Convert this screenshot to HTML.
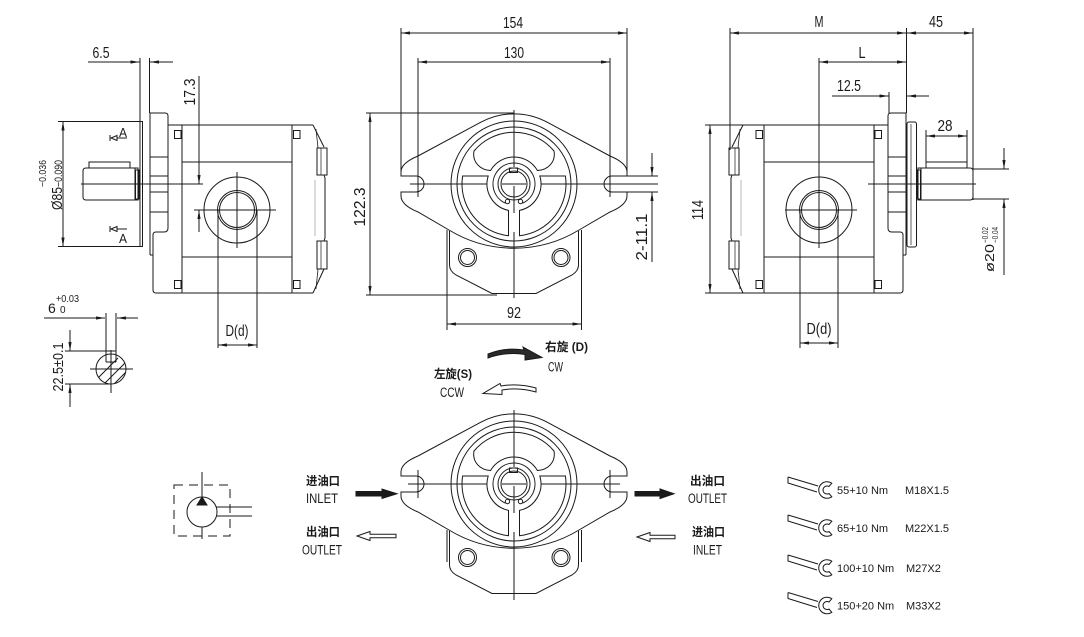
<!DOCTYPE html>
<html><head><meta charset="utf-8">
<style>
html,body{margin:0;padding:0;background:#fff;}
svg{display:block}
text{font-family:"Liberation Sans","Noto Sans CJK SC",sans-serif;fill:#1a1a1a;stroke:none}
.d{font-size:16px}
.cj{font-size:12px;font-weight:bold}
.en{font-size:13.5px}
.w{font-size:11px}
</style></head><body>
<svg width="1084" height="637" viewBox="0 0 1084 637" xmlns="http://www.w3.org/2000/svg">
<defs>
<marker id="ar" viewBox="0 0 9 3.2" refX="9" refY="1.6" markerWidth="9" markerHeight="3.2" markerUnits="userSpaceOnUse" orient="auto-start-reverse"><path d="M0,0L9,1.6L0,3.2z" fill="#1a1a1a"/></marker>
<clipPath id="cc"><circle cx="111" cy="369" r="15"/></clipPath>
</defs>
<rect width="1084" height="637" fill="#fff"/>
<g fill="none" stroke="#1a1a1a" stroke-width="1">

<!-- ===== SIDE BODY (left view), reused mirrored for right view ===== -->
<g id="side">
 <path d="M150,255 L150,113 L165,113 Q168,113 168,116 L168,228 Q168,232 164,232 L156,232 Q153,232 153,235 L153,290 Q153,293 156,293 L313,293"/>
 <path d="M150,255 L153,255"/>
 <path d="M168,125 L313,125"/>
 <path d="M313,125 L324,147 M324,175 L325,178 L325,238 L324,241 M324,269 L313,293"/>
 <path d="M316,129 L318,148 M316,289 L318,269" stroke-width="0.8"/>
 <rect x="317" y="148" width="10" height="27"/>
 <rect x="317" y="241" width="10" height="28"/>
 <path d="M321,148 V175 M321,241 V269" stroke-width="0.7"/>
 <path d="M315,180 V236" stroke="#999" stroke-width="0.7"/>
 <path d="M182,125 V293 M292,125 V293"/>
 <path d="M182,162 H292 M182,257 H292"/>
 <path d="M150,157 H168 M150,176 H168 M150,192 H168 M150,212 H168"/>
 <rect x="174.5" y="130.5" width="6.5" height="8"/>
 <rect x="293.5" y="130.5" width="6.5" height="8"/>
 <rect x="174.5" y="280.5" width="6.5" height="8"/>
 <rect x="293.5" y="280.5" width="6.5" height="8"/>
 <circle cx="237" cy="210" r="33"/>
 <circle cx="237" cy="210" r="19.5"/>
 <circle cx="237" cy="210" r="17.5"/>
 <path d="M138,168 H86 Q83,168 83,171 V197 Q83,200 86,200 H138 Z"/>
 <path d="M135,168 V200"/>
 <rect x="89" y="162" width="41" height="6"/>
 <rect x="135.5" y="170" width="3.5" height="29"/>
</g>
<use href="#side" transform="translate(1056,0) scale(-1,1)"/>

<!-- left view plate & dims -->
<rect x="140" y="121.5" width="2.5" height="125"/>
<path d="M58,121.5 H140 M58,246.5 H140"/>
<path d="M63,121.5 V246.5" marker-start="url(#ar)" marker-end="url(#ar)"/>
<path d="M140,58 V121 M149.5,58 V113"/>
<path d="M88,62 H139.5" marker-end="url(#ar)"/>
<path d="M173,62 H150" marker-end="url(#ar)"/>
<path d="M199,76 V184" marker-end="url(#ar)"/>
<path d="M199,232 V210" marker-end="url(#ar)"/>
<path d="M81,184 H203"/>
<path d="M194,210 H276 M237,172 V248"/>
<path d="M218,210 V348 M257,210 V348"/>
<path d="M218,345 H257" marker-start="url(#ar)" marker-end="url(#ar)"/>
<!-- A markers -->
<path d="M110,135 V141 M111,138 L117,135.5 L117,140.5 Z M117,138 H127"/>
<path d="M110,226 V232 M111,229 L117,226.5 L117,231.5 Z M117,229 H127"/>

<!-- key section detail -->
<path d="M44,318 H105" marker-end="url(#ar)"/>
<path d="M138,318 H117" marker-end="url(#ar)"/>
<path d="M106,313 V362 M116,313 V362 M106,362 H116"/>
<circle cx="111" cy="369" r="15"/>
<path d="M90,369 H133 M111,350 V393"/>
<g clip-path="url(#cc)">
 <path d="M92,384 L118,358 M98,390 L126,362 M104,394 L132,366"/>
</g>
<path d="M65,351 H116 M65,384 H111"/>
<path d="M70,330 V351" marker-end="url(#ar)"/>
<path d="M70,407 V384" marker-end="url(#ar)"/>

<!-- ===== FRONT VIEW group ===== -->
<g id="front">
 <path d="M480.6,122.3 L418,156 Q401,163 401,172 L401,176 L416,176 A8,8 0 0 1 416,192 L401,192 L401,196 Q401,205 418,212 L449,230 A125,125 0 0 0 579,230 L610,212 Q627,205 627,196 L627,192 L612,192 A8,8 0 0 1 612,176 L627,176 L627,172 Q627,163 610,156 L547.4,122.3 A70,70 0 0 0 480.6,122.3 Z"/>
 <circle cx="514" cy="184" r="63"/>
 <circle cx="514" cy="184" r="57"/>
 <path d="M474,151 A52,52 0 0 1 554,151 C556,162 548,170 537.4,170.5 A27,27 0 0 0 490.6,170.5 C480,170 472,162 474,151 Z"/>
 <path d="M462.6,176 L488.2,176 A27,27 0 0 0 508.5,210.4 L508.5,235.7 A52,52 0 0 1 462.6,176 Z"/>
 <path d="M565.4,176 L539.8,176 A27,27 0 0 1 519.5,210.4 L519.5,235.7 A52,52 0 0 0 565.4,176 Z"/>
 <path d="M505.5,203.2 A21,21 0 1 1 522.5,203.2"/>
 <circle cx="507.5" cy="201.5" r="2.2"/>
 <circle cx="520.5" cy="201.5" r="2.2"/>
 <circle cx="514" cy="184" r="16"/>
 <circle cx="514" cy="184" r="13"/>
 <rect x="509.5" y="168" width="8" height="4.5"/>
 <path d="M449.5,231 V265 Q449.5,271 456,275 L492,293.5 L536,293.5 L572,275 Q578.5,271 578.5,265 V231"/>
 <path d="M447,230 V262 M581.5,230 V262"/>
 <circle cx="467.5" cy="257.5" r="9"/>
 <circle cx="467.5" cy="257.5" r="7"/>
 <circle cx="561" cy="257.5" r="9"/>
 <circle cx="561" cy="257.5" r="7"/>
</g>
<use href="#front" transform="translate(0,300)"/>

<!-- front view centerlines & dims -->
<path d="M410,184 H487 M502,184 H526 M541,184 H658"/>
<path d="M514,110 V167 M514,186 V213 M514,232 V298"/>
<path d="M401,28 V172 M627,28 V172"/>
<path d="M401,33 H627" marker-start="url(#ar)" marker-end="url(#ar)"/>
<path d="M418,58 V197 M610,58 V197"/>
<path d="M418,62 H610" marker-start="url(#ar)" marker-end="url(#ar)"/>
<path d="M366,113 H514 M366,295 H497"/>
<path d="M370,113 V295" marker-start="url(#ar)" marker-end="url(#ar)"/>
<path d="M447,262 V330 M581.5,262 V330"/>
<path d="M447,324 H581.5" marker-start="url(#ar)" marker-end="url(#ar)"/>
<path d="M610,176 H658 M610,192 H658"/>
<path d="M652,153 V176" marker-end="url(#ar)"/>
<path d="M652,262 V192" marker-end="url(#ar)"/>

<!-- bottom front view centerlines -->
<path d="M408,484 H487 M502,484 H526 M541,484 H620"/>
<path d="M514,410 V467 M514,486 V513 M514,532 V600"/>
<path d="M418,470 V498 M610,470 V498"/>

<!-- ===== RIGHT VIEW dims ===== -->
<rect x="907" y="122" width="9.5" height="125" rx="2"/>
<path d="M911,124 V245" stroke-width="0.7"/>
<path d="M730,28 V150 M906.5,28 V113 M973,28 V200"/>
<path d="M730,33 H906" marker-start="url(#ar)" marker-end="url(#ar)"/>
<path d="M907,33 H973" marker-start="url(#ar)" marker-end="url(#ar)"/>
<path d="M819,58 V248"/>
<path d="M819,62 H906" marker-start="url(#ar)" marker-end="url(#ar)"/>
<path d="M889,92 V113"/>
<path d="M832,96 H888.5" marker-end="url(#ar)"/>
<path d="M929,96 H907" marker-end="url(#ar)"/>
<path d="M926,130 V166 M967,130 V166"/>
<path d="M926,136 H967" marker-start="url(#ar)" marker-end="url(#ar)"/>
<path d="M973,169 H1009 M973,199 H1009"/>
<path d="M1004,148 V169" marker-end="url(#ar)"/>
<path d="M1004,275 V199" marker-end="url(#ar)"/>
<path d="M868,184 H976"/>
<path d="M785,210 H857"/>
<path d="M705,125 H743 M705,293 H743"/>
<path d="M710,125 V293" marker-start="url(#ar)" marker-end="url(#ar)"/>
<path d="M800,210 V348 M838,210 V348"/>
<path d="M800,343 H838" marker-start="url(#ar)" marker-end="url(#ar)"/>

<!-- rotation arrows -->
<path d="M488,354 Q505,347 524,350 L523,347 L542,357.5 L525,360 L525,354.5 Q506,351.5 488,358 Z" fill="#2a2a2a"/>
<path d="M536,388 Q518,383 501,386 L500,383.5 L483,393.5 L502,394.5 L502,390 Q518,387 536,392 Z" fill="#fff"/>

<!-- inlet/outlet arrows -->
<path d="M356,491.5 H382 V489 L397,493.7 L382,498.5 V496 H356 Z" fill="#1a1a1a"/>
<path d="M635,491.5 H660 V489 L674,493.7 L660,498.5 V496 H635 Z" fill="#1a1a1a"/>
<path d="M357,536 L370,531.5 V534.3 H396 V537.7 H370 V540.5 Z" fill="#fff"/>
<path d="M637,537 L650,532.5 V535.3 H675 V538.7 H650 V541.5 Z" fill="#fff"/>

<!-- hydraulic symbol -->
<circle cx="202" cy="512" r="15"/>
<path d="M202,497 L197,505 L207,505 Z" fill="#1a1a1a"/>
<path d="M202,472 V497 M202,527 V539"/>
<path d="M216,507 H252 M216,516 H252"/>
<rect x="174" y="485" width="56" height="51" stroke-dasharray="9,6"/>

<!-- wrenches -->
<g id="wr">
 <path d="M788,477 L818,486 M788,477 V483 L817,492"/>
 <path d="M831.8,483.2 A8.3,8.3 0 1 0 831.8,496.8 L829,493.5 A4,4 0 1 1 829,486.5 Z" fill="#fff"/>
</g>
<use href="#wr" transform="translate(0,38)"/>
<use href="#wr" transform="translate(0,78)"/>
<use href="#wr" transform="translate(0,115.5)"/>
</g>

<!-- ===== TEXT ===== -->
<text class="d" x="101" y="58" text-anchor="middle" textLength="17" lengthAdjust="spacingAndGlyphs">6.5</text>
<text class="d" transform="translate(195,92) rotate(-90)" text-anchor="middle" textLength="27" lengthAdjust="spacingAndGlyphs">17.3</text>
<text style="font-size:15px" transform="translate(62,210) rotate(-90)" textLength="23" lengthAdjust="spacingAndGlyphs">Ø85</text>
<text style="font-size:10px" transform="translate(46,187) rotate(-90)" textLength="27" lengthAdjust="spacingAndGlyphs">−0.036</text>
<text style="font-size:11px" transform="translate(62,187) rotate(-90)" textLength="27" lengthAdjust="spacingAndGlyphs">−0.090</text>
<text style="font-size:13px" x="119" y="137" textLength="8" lengthAdjust="spacingAndGlyphs">A</text>
<text style="font-size:13px" x="119" y="243" textLength="8" lengthAdjust="spacingAndGlyphs">A</text>
<text class="d" x="237" y="336" text-anchor="middle" textLength="23" lengthAdjust="spacingAndGlyphs">D(d)</text>
<text style="font-size:14px" x="48" y="313">6</text>
<text style="font-size:10px" x="56" y="302" textLength="23" lengthAdjust="spacingAndGlyphs">+0.03</text>
<text style="font-size:10px" x="60" y="313">0</text>
<text style="font-size:15px" transform="translate(63,367) rotate(-90)" text-anchor="middle" textLength="49" lengthAdjust="spacingAndGlyphs">22.5±0.1</text>

<text class="d" x="513" y="28" text-anchor="middle" textLength="20" lengthAdjust="spacingAndGlyphs">154</text>
<text class="d" x="514" y="58" text-anchor="middle" textLength="20" lengthAdjust="spacingAndGlyphs">130</text>
<text class="d" transform="translate(365,207) rotate(-90)" text-anchor="middle" textLength="39" lengthAdjust="spacingAndGlyphs">122.3</text>
<text class="d" x="514" y="318" text-anchor="middle" textLength="14" lengthAdjust="spacingAndGlyphs">92</text>
<text class="d" transform="translate(647,237) rotate(-90)" text-anchor="middle" textLength="47" lengthAdjust="spacingAndGlyphs">2-11.1</text>

<text class="d" x="819" y="27" text-anchor="middle" textLength="9" lengthAdjust="spacingAndGlyphs">M</text>
<text class="d" x="936" y="27" text-anchor="middle" textLength="14" lengthAdjust="spacingAndGlyphs">45</text>
<text class="d" x="862" y="58" text-anchor="middle" textLength="7" lengthAdjust="spacingAndGlyphs">L</text>
<text class="d" x="849" y="91" text-anchor="middle" textLength="24" lengthAdjust="spacingAndGlyphs">12.5</text>
<text class="d" x="945" y="131" text-anchor="middle" textLength="15" lengthAdjust="spacingAndGlyphs">28</text>
<text class="d" transform="translate(703,210) rotate(-90)" text-anchor="middle" textLength="20" lengthAdjust="spacingAndGlyphs">114</text>
<text class="d" x="819" y="334" text-anchor="middle" textLength="25" lengthAdjust="spacingAndGlyphs">D(d)</text>
<text style="font-size:13px" transform="translate(994,272) rotate(-90)" textLength="28" lengthAdjust="spacingAndGlyphs">ø20</text>
<text style="font-size:8.5px" transform="translate(988,243) rotate(-90)" textLength="16" lengthAdjust="spacingAndGlyphs">−0.02</text>
<text style="font-size:8.5px" transform="translate(998,243) rotate(-90)" textLength="16" lengthAdjust="spacingAndGlyphs">−0.04</text>

<text class="cj" x="545" y="351" textLength="43" lengthAdjust="spacingAndGlyphs">右旋 (D)</text>
<text class="en" x="548" y="371.5" textLength="15" lengthAdjust="spacingAndGlyphs">CW</text>
<text class="cj" x="434" y="378" textLength="38" lengthAdjust="spacingAndGlyphs">左旋(S)</text>
<text class="en" x="440" y="397" textLength="24" lengthAdjust="spacingAndGlyphs">CCW</text>

<text class="cj" x="306" y="485" textLength="34" lengthAdjust="spacingAndGlyphs">进油口</text>
<text class="en" x="306" y="503" textLength="32" lengthAdjust="spacingAndGlyphs">INLET</text>
<text class="cj" x="306" y="536" textLength="34" lengthAdjust="spacingAndGlyphs">出油口</text>
<text class="en" x="302" y="554.5" textLength="40" lengthAdjust="spacingAndGlyphs">OUTLET</text>
<text class="cj" x="690" y="485" textLength="35" lengthAdjust="spacingAndGlyphs">出油口</text>
<text class="en" x="688" y="503" textLength="39" lengthAdjust="spacingAndGlyphs">OUTLET</text>
<text class="cj" x="692" y="536" textLength="33" lengthAdjust="spacingAndGlyphs">进油口</text>
<text class="en" x="693" y="554.5" textLength="29" lengthAdjust="spacingAndGlyphs">INLET</text>

<text class="w" x="837" y="494">55+10 Nm</text>
<text class="w" x="905" y="494">M18X1.5</text>
<text class="w" x="837" y="532">65+10 Nm</text>
<text class="w" x="905" y="532">M22X1.5</text>
<text class="w" x="837" y="572">100+10 Nm</text>
<text class="w" x="906" y="572">M27X2</text>
<text class="w" x="837" y="609.5">150+20 Nm</text>
<text class="w" x="906" y="609.5">M33X2</text>
</svg>
</body></html>
